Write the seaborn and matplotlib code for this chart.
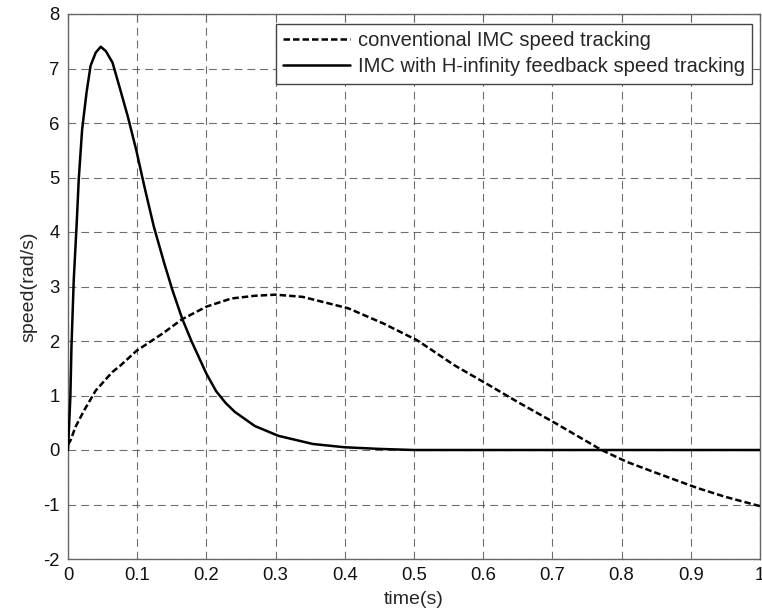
import numpy as np
import pandas as pd
import matplotlib
matplotlib.use("Agg")
import matplotlib.pyplot as plt
import seaborn as sns

# valores
t_imc = [0, 0.0034, 0.0107, 0.023, 0.04, 0.064, 0.0758, 0.099, 0.124, 0.137, 0.165,
         0.2, 0.236, 0.27, 0.3, 0.339, 0.405, 0.456, 0.505, 0.559, 0.607, 0.65,
         0.706, 0.771, 0.808, 0.85, 0.91, 0.95, 1.0]
v_imc = [0.1, 0.17, 0.42, 0.72, 1.09, 1.43, 1.55, 1.82, 2.03, 2.14, 2.4,
         2.63, 2.78, 2.83, 2.85, 2.81, 2.6, 2.32, 2.01, 1.55, 1.2, 0.88,
         0.48, 0.0, -0.22, -0.42, -0.7, -0.86, -1.03]

t_hinf = [0, 0.0034, 0.005, 0.0083, 0.0127, 0.0155, 0.0204, 0.0268, 0.0326, 0.04,
          0.0473, 0.0546, 0.0643, 0.074, 0.0862, 0.0985, 0.111, 0.124, 0.139, 0.151,
          0.165, 0.178, 0.2, 0.214, 0.228, 0.241, 0.27, 0.304, 0.354, 0.4, 0.45, 0.5,
          0.6, 0.8, 1.0]
v_hinf = [0, 0.97, 1.89, 3.12, 4.19, 4.96, 5.88, 6.56, 7.05, 7.29,
          7.40, 7.32, 7.11, 6.68, 6.13, 5.51, 4.8, 4.1, 3.43, 2.93,
          2.41, 2.01, 1.4, 1.08, 0.86, 0.7, 0.44, 0.26, 0.11, 0.05, 0.02, 0.0,
          0.0, 0.0, 0.0]

legend_labels = ["conventional IMC speed tracking",
                 "IMC with H-infinity feedback speed tracking"]
x_ticks = [0, 0.1, 0.2, 0.3, 0.4, 0.5, 0.6, 0.7, 0.8, 0.9, 1]
x_tick_labels = ["0", "0.1", "0.2", "0.3", "0.4", "0.5", "0.6", "0.7", "0.8", "0.9", "1"]
y_ticks = [-2, -1, 0, 1, 2, 3, 4, 5, 6, 7, 8]

df_imc = pd.DataFrame({"time": t_imc, "speed": v_imc})
df_hinf = pd.DataFrame({"time": t_hinf, "speed": v_hinf})

sns.set_style("white")
plt.rcParams["font.family"] = ["Liberation Sans", "DejaVu Sans"]
plt.rcParams["axes.unicode_minus"] = False

fig = plt.figure(figsize=(7.62, 6.15), dpi=100)
ax = fig.add_axes([68 / 762, 1 - 559 / 615, 692 / 762, 545 / 615])

sns.lineplot(data=df_imc, x="time", y="speed", ax=ax, color="black",
             linewidth=1.8, linestyle=(0, (2.6, 1.2)), label=legend_labels[0],
             sort=False, zorder=3)
sns.lineplot(data=df_hinf, x="time", y="speed", ax=ax, color="black",
             linewidth=1.8, linestyle="-", label=legend_labels[1],
             sort=False, zorder=3)

ax.set_xlim(0, 1)
ax.set_ylim(-2, 8)
ax.set_xticks(x_ticks)
ax.set_xticklabels(x_tick_labels)
ax.set_yticks(y_ticks)

ax.grid(True, color="#555555", linestyle=(0, (7, 4.5)), linewidth=0.8, alpha=0.85)
ax.set_axisbelow(True)

for s in ax.spines.values():
    s.set_color("#666666")
    s.set_linewidth(1.0)

ax.tick_params(axis="both", direction="in", length=5, width=0.8, color="#666666",
               labelsize=13.3, labelcolor="#111111", top=True, right=True, pad=6)

ax.set_xlabel("time(s)", fontsize=14, labelpad=5)
ax.set_ylabel("speed(rad/s)", fontsize=14, labelpad=4)

leg = ax.legend(loc="upper right", bbox_to_anchor=(0.988, 0.981), borderaxespad=0,
                fontsize=14.5, handlelength=3.3, handletextpad=0.4,
                labelspacing=0.35, borderpad=0.35, fancybox=False, framealpha=1)
leg.get_frame().set_edgecolor("#444444")
leg.get_frame().set_linewidth(1.0)

fig.savefig("out.png", dpi=100)
